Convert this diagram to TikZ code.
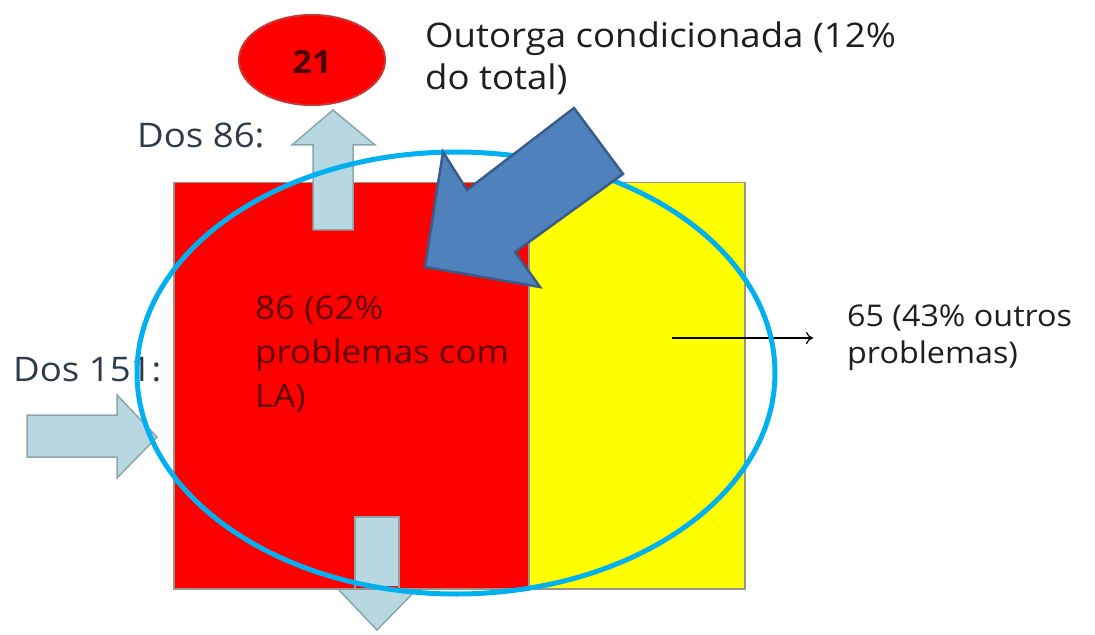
\documentclass[tikz,border=0pt]{standalone}
\usepackage{fontspec}
\setmainfont{Open Sans}[FakeStretch=1.08]
\usetikzlibrary{arrows.meta}
\definecolor{boxred}{RGB}{255,0,0}
\definecolor{boxyel}{RGB}{255,255,0}
\definecolor{edgegray}{RGB}{150,150,140}
\definecolor{flowfill}{RGB}{183,216,224}
\definecolor{flowedge}{RGB}{140,165,170}
\definecolor{ringblue}{RGB}{0,176,240}
\definecolor{bigfill}{RGB}{79,129,189}
\definecolor{bigedge}{RGB}{56,93,138}
\definecolor{txtdark}{RGB}{30,30,30}
\definecolor{txtslate}{RGB}{45,60,72}
\definecolor{txtmaroon}{RGB}{95,0,0}
\tikzset{
  flowarrow/.style={fill=flowfill,draw=flowedge,line width=1.5bp,line join=miter},
  lbl/.style={inner sep=0pt,anchor=base west,font=\fontsize{34}{40}\selectfont,text=txtdark},
  lblred/.style={lbl,font=\fontsize{32.5}{38}\selectfont,text=txtmaroon},
  lblsmall/.style={lbl,font=\fontsize{30}{34}\selectfont},
}
\begin{document}
\begin{tikzpicture}[x=1bp,y=-1bp]
\useasboundingbox (0,0) rectangle (1095,635);
% left inflow arrow
\draw[flowarrow] (27,415) -- (117,415) -- (117,395) -- (157,437) -- (117,478) -- (117,457) -- (27,457) -- cycle;
% down arrow head (below boxes)
\draw[flowarrow] (355,517) -- (399,517) -- (399,588) -- (418,588) -- (377,630) -- (337,588) -- (355,588) -- cycle;
% boxes
\node[draw=edgegray,line width=1.5bp,fill=boxred,minimum width=355bp,minimum height=406bp,inner sep=0pt,anchor=north west] (redbox) at (173,182) {};
\node[draw=edgegray,line width=1.5bp,fill=boxyel,minimum width=216bp,minimum height=406bp,inner sep=0pt,anchor=north west] (yelbox) at (528,182) {};
% up arrow
\draw[flowarrow] (313,230) -- (313,145) -- (292,145) -- (333,110) -- (375,145) -- (353,145) -- (353,230) -- cycle;
% down arrow shaft over red
\fill[flowfill] (356,518) rectangle (398,586);
\draw[flowedge,line width=1.5bp] (355,588) -- (355,517) -- (399,517) -- (399,588);
% small black arrow
\coordinate (pa) at (672,338);
\coordinate (pb) at (813,338);
\draw[-{To[length=7bp,width=12bp]},line width=1.2bp,black] (pa) -- (pb);
% texts
\node[lbl] (t1a) at (425,48) {Outorga condicionada (12\%};
\node[lbl] (t1b) at (425,90) {do total)};
\node[lbl,text=txtslate] (t2) at (137,148) {Dos 86:};
\node[lbl,text=txtslate] (t3) at (13,381) {Dos 151:};
\node[lblred] (t4a) at (255,320) {86 (62\%};
\node[lblred] (t4b) at (255,363) {problemas com};
\node[lblred] (t4c) at (255,407) {LA)};
\node[lblsmall] (t5a) at (847,327) {65 (43\% outros};
\node[lblsmall] (t5b) at (847,363) {problemas)};
% top ellipse
\draw[fill=boxred,draw=red!60!gray,line width=2bp] (312,60) ellipse [x radius=73,y radius=45];
\node[font=\bfseries\fontsize{32}{38}\selectfont,text=txtmaroon!80!black] (n21) at (312,62) {21};
% cyan ring
\draw[ringblue,line width=5bp] (456,373) ellipse [x radius=319,y radius=221];
% big blue arrow
\draw[fill=bigfill,draw=bigedge,line width=2.5bp,line join=miter]
  (574,108) -- (623,174) -- (515,252) -- (540,287) -- (425,267) -- (443,152) -- (467,190) -- cycle;
\end{tikzpicture}
\end{document}
